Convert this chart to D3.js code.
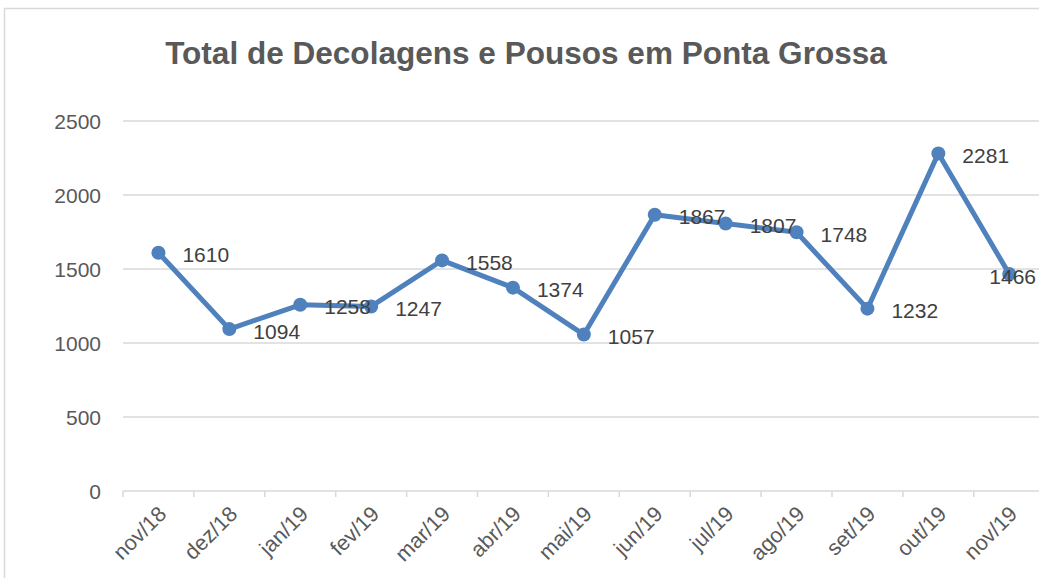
<!DOCTYPE html>
<html><head><meta charset="utf-8">
<script src="https://cdn.jsdelivr.net/npm/d3@7"></script>
<style>body{margin:0;background:#fff;}svg{display:block;}</style>
</head><body>
<svg id="c" width="1039" height="578"></svg>
<script>
const categories = ["nov/18","dez/18","jan/19","fev/19","mar/19","abr/19","mai/19","jun/19","jul/19","ago/19","set/19","out/19","nov/19"];
const values = [1610,1094,1258,1247,1558,1374,1057,1867,1807,1748,1232,2281,1466];
const yTicks = [0,500,1000,1500,2000,2500];
const title = "Total de Decolagens e Pousos em Ponta Grossa";

const svg = d3.select("#c");
const font = "'Liberation Sans', Arial, sans-serif";
const grey = "#595959", gridC = "#d9d9d9", blue = "#4f81bd";

svg.append("rect").attr("x",4.5).attr("y",8.5).attr("width",1050).attr("height",600)
  .attr("fill","#fff").attr("stroke",gridC).attr("stroke-width",1.5);

const x = d3.scaleBand().domain(categories).range([123, 123 + 13*70.9]);
const y = d3.scaleLinear().domain([0,2500]).range([491,121]);

// gridlines
svg.append("g").selectAll("line").data(yTicks.filter(d=>d>0)).join("line")
  .attr("x1",123).attr("x2",1045).attr("y1",d=>y(d)).attr("y2",d=>y(d))
  .attr("stroke",gridC).attr("stroke-width",1.5);

// y labels
svg.append("g").selectAll("text").data(yTicks).join("text")
  .attr("x",101).attr("y",d=>y(d)).attr("dy","0.36em").attr("text-anchor","end")
  .attr("font-family",font).attr("font-size",21).attr("fill",grey).text(d=>d);

// x axis
const xAxis = svg.append("g").attr("transform","translate(0,491)")
  .call(d3.axisBottom(x).tickSize(0).tickFormat(""));
xAxis.select(".domain").remove();
svg.append("line").attr("x1",123).attr("x2",1045).attr("y1",491).attr("y2",491).attr("stroke",gridC).attr("stroke-width",1.5);
svg.append("g").selectAll("line").data(categories).join("line")
  .attr("x1",d=>x(d)).attr("x2",d=>x(d)).attr("y1",491).attr("y2",497)
  .attr("stroke",gridC).attr("stroke-width",1.5);

svg.append("g").selectAll("text").data(categories).join("text")
  .attr("transform",d=>`translate(${x(d)+x.bandwidth()/2+4},510) rotate(-45)`)
  .attr("text-anchor","end").attr("dy","0.35em")
  .attr("font-family",font).attr("font-size",21.5).attr("fill",grey).text(d=>d);

// line
const cx = (d,i)=>x(categories[i])+x.bandwidth()/2;
svg.append("path").datum(values)
  .attr("d", d3.line().x((d,i)=>cx(d,i)).y(d=>y(d)))
  .attr("fill","none").attr("stroke",blue).attr("stroke-width",5).attr("stroke-linejoin","round");
svg.append("g").selectAll("circle").data(values).join("circle")
  .attr("cx",cx).attr("cy",d=>y(d)).attr("r",7).attr("fill",blue);

// data labels
svg.append("g").selectAll("text").data(values).join("text")
  .attr("x",(d,i)=>cx(d,i)+24).attr("y",d=>y(d)+2).attr("dy","0.36em")
  .attr("font-family",font).attr("font-size",21).attr("fill","#404040").text(d=>d)
  .each(function(){
    const el = d3.select(this);
    const wd = this.getComputedTextLength();
    const x0 = +el.attr("x");
    if (x0 + wd > 1036) el.attr("x", 1036 - wd);
  });

// title
const t = svg.append("text").attr("x",526).attr("y",64).attr("text-anchor","middle")
  .attr("font-family",font).attr("font-weight","bold").attr("font-size",30).attr("fill",grey).text(title);
const w = t.node().getComputedTextLength();
t.attr("font-size", 30*722/w);
</script>
</body></html>
